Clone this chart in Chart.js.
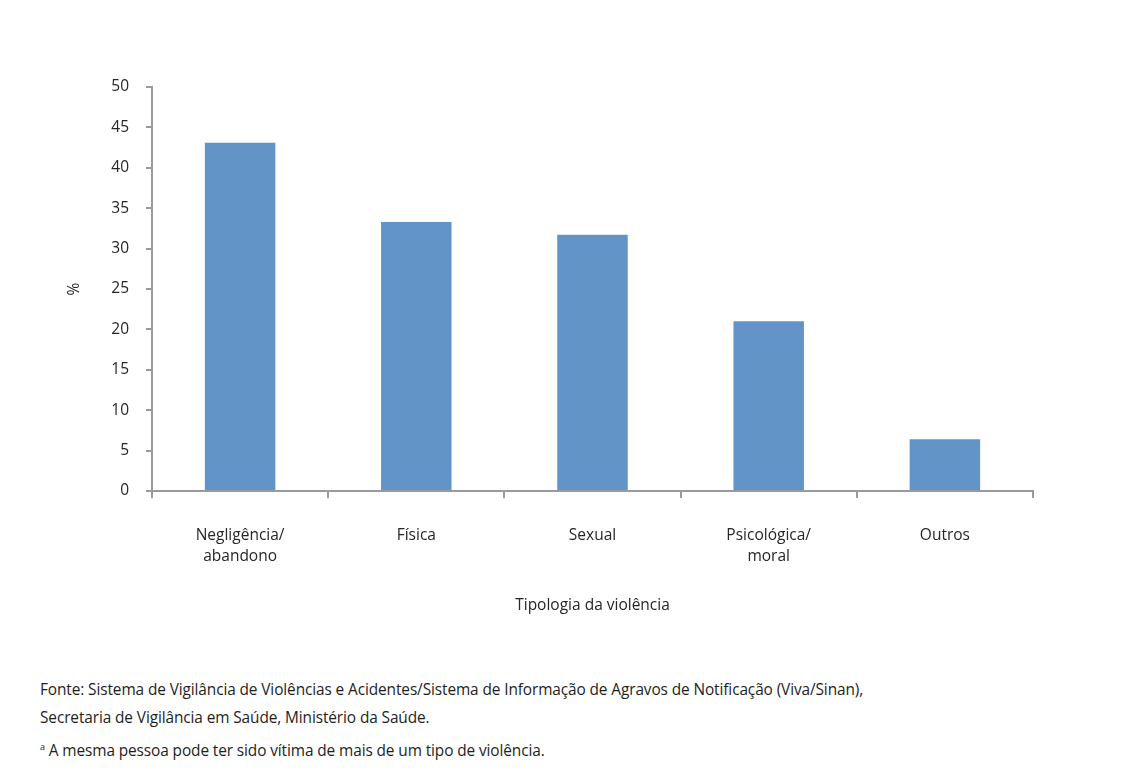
<!DOCTYPE html>
<html>
<head>
<meta charset="utf-8">
<script src="https://cdn.jsdelivr.net/npm/chart.js@4"></script>
<style>
    body { margin: 0; background: #fff; }
    #wrap { position: relative; width: 1128px; height: 776px; }
    #chart-box { position: absolute; left: 0; top: 0; width: 1128px; height: 640px; }
    .nota { position: absolute; left: 40px; font-family: "Open Sans", sans-serif; font-size: 15.4px; color: #1e1e1e; line-height: 28px; letter-spacing: -0.1px; }
    .nota sup { font-size: 9px; }
</style>
</head>
<body>
<div id="wrap">
    <div id="chart-box"><canvas id="grafico"></canvas></div>
    <div class="nota" style="top: 676px;">Fonte: Sistema de Vigilância de Violências e Acidentes/Sistema de Informação de Agravos de Notificação (Viva/Sinan),<br>Secretaria de Vigilância em Saúde, Ministério da Saúde.</div>
    <div class="nota" style="top: 733px;"><sup>a</sup> A mesma pessoa pode ter sido vítima de mais de um tipo de violência.</div>
</div>
<script>
// Dados do gráfico
const categorias = [['Negligência/', 'abandono'], 'Física', 'Sexual', ['Psicológica/', 'moral'], 'Outros'];
const percentuais = [43.1, 33.3, 31.7, 21.0, 6.4];
const tituloX = 'Tipologia da violência';
const tituloY = '%';

const corBarra = '#6294c8';
const corEixo = '#9a9a9a';
const corTexto = '#262626';
const fonte = { family: '"Open Sans", sans-serif', size: 15.5, lineHeight: 1.35 };

const ctx = document.getElementById('grafico').getContext('2d');
new Chart(ctx, {
    type: 'bar',
    data: {
        labels: categorias,
        datasets: [{
            data: percentuais,
            backgroundColor: corBarra,
            borderWidth: 0,
            barPercentage: 0.8,
            categoryPercentage: 0.5
        }]
    },
    options: {
        responsive: true,
        maintainAspectRatio: false,
        animation: false,
        layout: { padding: { left: 0, right: 95, top: 87, bottom: 0 } },
        plugins: {
            legend: { display: false },
            tooltip: { enabled: false }
        },
        scales: {
            x: {
                grid: { display: true, drawOnChartArea: false, offset: true, tickLength: 7, color: corEixo, lineWidth: 2 },
                border: { color: corEixo, width: 2 },
                ticks: { color: corTexto, font: fonte, padding: 27, maxRotation: 0, autoSkip: false },
                title: { display: true, text: tituloX, color: corTexto, font: fonte, padding: { bottom: 24 } },
                afterFit: (scale) => { scale.height = 149; }
            },
            y: {
                min: 0,
                max: 50,
                ticks: { stepSize: 5, color: corTexto, font: fonte, padding: 17 },
                grid: { display: true, drawOnChartArea: false, tickLength: 6, color: corEixo, lineWidth: 2 },
                border: { color: corEixo, width: 2 },
                title: { display: true, text: tituloY, color: corTexto, font: fonte, padding: { top: 64 } },
                afterFit: (scale) => { scale.width = 152; }
            }
        }
    }
});
</script>
</body>
</html>
